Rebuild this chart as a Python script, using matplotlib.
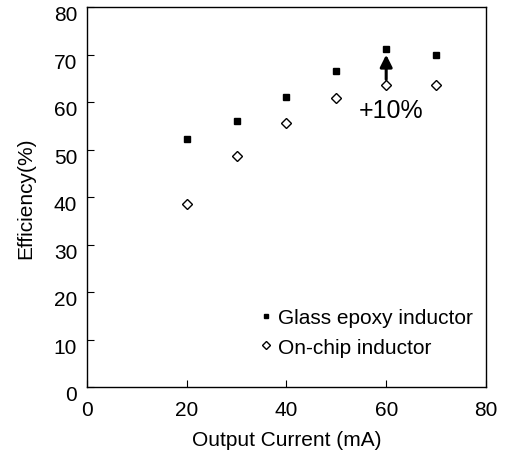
import matplotlib
matplotlib.use("Agg")
import matplotlib.pyplot as plt
from matplotlib.transforms import ScaledTranslation

plt.rcParams['font.family'] = ['Liberation Sans', 'DejaVu Sans']

current = [20, 30, 40, 50, 60, 70]
glass_epoxy = [52.2, 56.0, 61.0, 66.6, 71.2, 69.9]
on_chip = [38.5, 48.7, 55.7, 60.8, 63.6, 63.6]
xticks = [0, 20, 40, 60, 80]
yticks = [0, 10, 20, 30, 40, 50, 60, 70, 80]

fig = plt.figure(figsize=(5.11, 4.56), dpi=100)
ax = fig.add_axes([0.170, 0.149, 0.781, 0.833])

ax.plot(current, glass_epoxy, linestyle='none', marker='s', markersize=4.8,
        color='black', label='Glass epoxy inductor')
ax.plot(current, on_chip, linestyle='none', marker='D', markersize=5.5,
        markerfacecolor='white', markeredgecolor='black', markeredgewidth=1.0,
        label='On-chip inductor')

ax.annotate('', xy=(60, 70.0), xytext=(60, 64.8),
            arrowprops=dict(arrowstyle='-|>', color='black', lw=2.2,
                            mutation_scale=18, shrinkA=0, shrinkB=0))
ax.text(61, 58.3, '+10%', fontsize=18, ha='center', va='center')

ax.set_xlim(0, 80)
ax.set_ylim(0, 80)
ax.set_xticks(xticks)
ax.set_yticks(yticks)
ax.tick_params(direction='in', length=5, labelsize=15)
ax.tick_params(axis='y', pad=7)
ax.tick_params(axis='x', pad=9)
off = ScaledTranslation(0, -4 / 72, fig.dpi_scale_trans)
for lab in ax.get_yticklabels():
    lab.set_transform(lab.get_transform() + off)
ax.set_xlabel('Output Current (mA)', fontsize=15, labelpad=8)
ax.set_ylabel('Efficiency(%)', fontsize=15, labelpad=13)
for s in ax.spines.values():
    s.set_linewidth(1.0)

ax.legend(loc='center left', bbox_to_anchor=(0.433, 0.144), frameon=False,
          fontsize=15, handletextpad=0.3, handlelength=0.6, markerscale=0.75,
          labelspacing=0.5, borderpad=0, borderaxespad=0)

fig.savefig('out.png', dpi=100)
